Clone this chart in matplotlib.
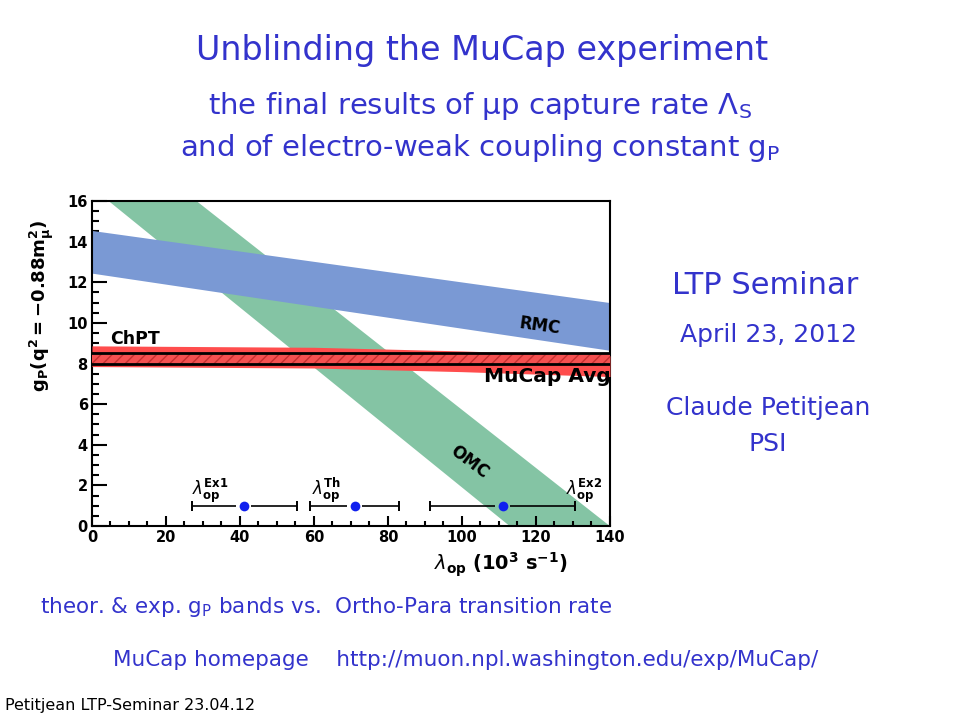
import numpy as np
import matplotlib
matplotlib.use('Agg')
import matplotlib.pyplot as plt

# band edges (lambda_op in 10^3 s^-1, g_P)
lam_ends = [0, 140]
rmc_upper = [14.55, 11.0]
rmc_lower = [12.45, 8.65]
omc_upper = [20.05, 0.0]
omc_lower = [16.67, -4.0]

chpt_lam = [0, 60, 100, 140]
chpt_upper = [8.87, 8.8, 8.62, 8.38]
chpt_lower = [7.85, 7.78, 7.6, 7.36]

mucap_lo = 8.0
mucap_hi = 8.5

# lambda_op measurements / theory
lam_names = ['Ex1', 'Th', 'Ex2']
lam_val = np.array([41, 71, 111])
lam_err_lo = np.array([14, 12, 19.6])
lam_err_hi = np.array([14.4, 12, 19.6])
lam_y = np.array([1, 1, 1])
lam_lab_x = [27, 59.5, 128]

blue_txt = '#3333cc'

fig = plt.figure(figsize=(9.6, 7.2), dpi=100)
fig.patch.set_facecolor('white')

# slide text
fig.text(0.502, 0.930, 'Unblinding the MuCap experiment', ha='center', va='center',
         fontsize=24, color=blue_txt)
fig.text(0.500, 0.853, 'the final results of \u03bcp capture rate \u039b$_\\mathrm{S}$',
         ha='center', va='center', fontsize=21, color=blue_txt)
fig.text(0.500, 0.795, 'and of electro-weak coupling constant g$_\\mathrm{P}$',
         ha='center', va='center', fontsize=21, color=blue_txt)
fig.text(0.797, 0.603, 'LTP Seminar', ha='center', va='center', fontsize=22, color=blue_txt)
fig.text(0.800, 0.535, 'April 23, 2012', ha='center', va='center', fontsize=18, color=blue_txt)
fig.text(0.800, 0.433, 'Claude Petitjean', ha='center', va='center', fontsize=18, color=blue_txt)
fig.text(0.800, 0.383, 'PSI', ha='center', va='center', fontsize=18, color=blue_txt)
fig.text(0.042, 0.157, 'theor. & exp. g$_\\mathrm{P}$ bands vs.  Ortho-Para transition rate',
         ha='left', va='center', fontsize=15.5, color=blue_txt)
fig.text(0.118, 0.083, 'MuCap homepage    http://muon.npl.washington.edu/exp/MuCap/',
         ha='left', va='center', fontsize=15.5, color=blue_txt)
fig.text(0.005, 0.020, 'Petitjean LTP-Seminar 23.04.12', ha='left', va='center',
         fontsize=11.5, color='black')

ax = fig.add_axes([0.0958, 0.2694, 0.5396, 0.4514])

ax.fill_between(lam_ends, omc_lower, omc_upper, color='#84c4a4', lw=0, zorder=1)
ax.fill_between(lam_ends, rmc_lower, rmc_upper, color='#7a99d4', lw=0, zorder=2)
ax.fill_between(chpt_lam, chpt_lower, chpt_upper, color='#ff4d4d', lw=0, zorder=3)
ax.fill_between(lam_ends, [mucap_lo] * 2, [mucap_hi] * 2, facecolor='#f55050',
                edgecolor='#c43030', hatch='///', lw=0, zorder=4)
ax.plot(lam_ends, [mucap_hi] * 2, color='black', lw=2, zorder=5)
ax.plot(lam_ends, [mucap_lo] * 2, color='black', lw=2, zorder=5)

# error bars with a gap round the point, ROOT style
gap = 2.0
ax.hlines(lam_y, lam_val - lam_err_lo, lam_val - gap, color='black', lw=1.2, zorder=6)
ax.hlines(lam_y, lam_val + gap, lam_val + lam_err_hi, color='black', lw=1.2, zorder=6)
ax.plot(lam_val - lam_err_lo, lam_y, '|', color='black', ms=7, mew=1.4, zorder=6)
ax.plot(lam_val + lam_err_hi, lam_y, '|', color='black', ms=7, mew=1.4, zorder=6)
ax.plot(lam_val, lam_y, 'o', color='#1020ee', ms=7, mew=0, zorder=7)
for nm, xl in zip(lam_names, lam_lab_x):
    ax.text(xl, 1.75, r'$\lambda_{\mathbf{op}}^{\mathbf{%s}}$' % nm, fontsize=12,
            ha='left', va='center', zorder=7)

ax.text(4.9, 9.2, 'ChPT', fontsize=12.5, fontweight='bold', ha='left', va='center', zorder=7)
ax.text(106, 7.35, 'MuCap Avg', fontsize=14.5, fontweight='bold', ha='left', va='center', zorder=7)
ax.text(121, 9.85, 'RMC', fontsize=12, fontweight='bold', ha='center', va='center',
        rotation=-8, zorder=7)
ax.text(102, 3.15, 'OMC', fontsize=12, fontweight='bold', ha='center', va='center',
        rotation=-37, zorder=7)

ax.set_xlim(0, 140)
ax.set_ylim(0, 16)
ax.set_xticks(np.arange(0, 141, 20))
ax.set_xticks(np.arange(0, 141, 5), minor=True)
ax.set_yticks(np.arange(0, 17, 2))
ax.set_yticks(np.arange(0, 16.1, 0.5), minor=True)
for lab in ax.get_xticklabels() + ax.get_yticklabels():
    lab.set_fontweight('bold')
ax.tick_params(axis='both', which='both', direction='in', top=False, right=False,
               labelsize=10.5, width=1.5)
ax.tick_params(axis='y', which='major', length=11, pad=3)
ax.tick_params(axis='y', which='minor', length=5)
ax.tick_params(axis='x', which='major', length=7, pad=3)
ax.tick_params(axis='x', which='minor', length=3.5)
for sp in ax.spines.values():
    sp.set_linewidth(1.5)

ax.set_xlabel(r'$\lambda_{\mathbf{op}}\ \mathbf{(10^3\ s^{-1})}$', fontsize=14)
ax.xaxis.set_label_coords(0.79, -0.075)
ax.set_ylabel(r'$\mathbf{g_P(q^2 = -0.88m_{\mu}^2)}$', fontsize=13)
ax.yaxis.set_label_coords(-0.07, 0.677)

plt.savefig('out.png', dpi=100)
